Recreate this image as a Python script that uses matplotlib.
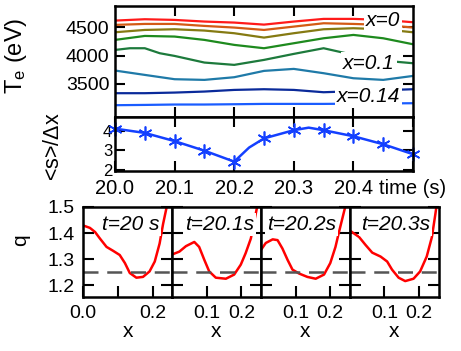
import numpy as np
import matplotlib
matplotlib.use('Agg')
import matplotlib.pyplot as plt

plt.rcParams['font.family'] = ['Liberation Sans', 'DejaVu Sans']
plt.rcParams['mathtext.fontset'] = 'custom'
plt.rcParams['mathtext.rm'] = 'Liberation Sans'
plt.rcParams['mathtext.it'] = 'Liberation Sans:italic'

# ---- top panel: Te(t) at several radii ----
t_te = [20.0, 20.05, 20.1, 20.15, 20.2, 20.25, 20.3, 20.35, 20.4, 20.45, 20.5]
te_red = [4617, 4641, 4629, 4600, 4582, 4546, 4600, 4647, 4647, 4629, 4588]
te_orange = [4541, 4558, 4558, 4523, 4494, 4452, 4511, 4570, 4558, 4541, 4494]
te_olive = [4411, 4452, 4464, 4441, 4394, 4317, 4394, 4464, 4482, 4464, 4411]
te_green = [4276, 4346, 4335, 4276, 4188, 4129, 4217, 4305, 4364, 4305, 4199]
t_dgreen = [20.0, 20.025, 20.05, 20.075, 20.1, 20.15, 20.2, 20.25, 20.3, 20.35, 20.38, 20.44, 20.5]
te_dgreen = [4099, 4129, 4129, 4041, 3993, 3876, 3835, 3923, 4029, 4129, 4058, 3920, 3864]
te_teal = [3735, 3658, 3582, 3570, 3617, 3729, 3764, 3688, 3599, 3570, 3640]
t_inner = [20.0, 20.05, 20.1, 20.15, 20.2, 20.25, 20.3, 20.35, 20.5]
te_navy = [3335, 3335, 3346, 3364, 3393, 3405, 3393, 3352, 3405]
te_blue = [3123, 3128, 3135, 3135, 3140, 3146, 3146, 3146, 3158]

# ---- middle panel: <s>/dx ----
t_s = [20.0, 20.05, 20.1, 20.15, 20.2, 20.25, 20.3, 20.35, 20.4, 20.45, 20.5]
s_dx = [4.12, 3.90, 3.48, 2.99, 2.43, 3.62, 4.04, 4.04, 3.73, 3.32, 2.81]
t_sline = [20.0, 20.05, 20.1, 20.15, 20.2, 20.225, 20.25, 20.3, 20.325, 20.35, 20.4, 20.45, 20.5]
s_line = [4.12, 3.90, 3.48, 2.99, 2.43, 3.15, 3.62, 4.04, 4.17, 4.04, 3.73, 3.32, 2.81]

# ---- bottom panels: q profiles ----
q_x1 = [0.0, 0.019, 0.034, 0.048, 0.067, 0.086, 0.105, 0.12, 0.134, 0.153, 0.172, 0.191, 0.206, 0.22, 0.23, 0.241, 0.25]
q_y1 = [1.429, 1.42, 1.404, 1.379, 1.347, 1.332, 1.316, 1.285, 1.247, 1.229, 1.232, 1.253, 1.291, 1.36, 1.435, 1.504, 1.56]
q_x2 = [0.0, 0.021, 0.04, 0.064, 0.078, 0.093, 0.107, 0.126, 0.155, 0.179, 0.198, 0.212, 0.227, 0.245]
q_y2 = [1.318, 1.329, 1.35, 1.366, 1.347, 1.297, 1.253, 1.229, 1.225, 1.241, 1.279, 1.323, 1.379, 1.5]
q_x3 = [0.0, 0.014, 0.034, 0.048, 0.062, 0.077, 0.091, 0.11, 0.134, 0.158, 0.182, 0.2, 0.215, 0.224, 0.243]
q_y3 = [1.335, 1.362, 1.376, 1.373, 1.341, 1.297, 1.26, 1.245, 1.232, 1.225, 1.241, 1.285, 1.347, 1.398, 1.5]
q_x4 = [0.0, 0.027, 0.046, 0.065, 0.089, 0.108, 0.122, 0.141, 0.16, 0.184, 0.203, 0.222, 0.237, 0.247, 0.252]
q_y4 = [1.41, 1.385, 1.354, 1.325, 1.31, 1.291, 1.26, 1.229, 1.216, 1.225, 1.253, 1.31, 1.385, 1.473, 1.52]
q_times = ['t=20 s', 't=20.1s', 't=20.2s', 't=20.3s']
q_ref = 1.25

W, H = 461, 351
fig = plt.figure(figsize=(W / 100, H / 100), dpi=100)

def frac(x0, y0, x1, y1):
    return [x0 / W, 1 - y1 / H, (x1 - x0) / W, (y1 - y0) / H]

lw_sp = 1.8
def style(ax):
    for s in ax.spines.values():
        s.set_linewidth(lw_sp)

# top panel
ax1 = fig.add_axes(frac(115, 5.7, 413, 116.7))
style(ax1)
ax1.plot(t_te, te_red, color='#ff1a1a', lw=1.6)
ax1.plot(t_te, te_orange, color='#d35a14', lw=1.6)
ax1.plot(t_te, te_olive, color='#857a12', lw=1.6)
ax1.plot(t_te, te_green, color='#1e8a1e', lw=1.6)
ax1.plot(t_dgreen, te_dgreen, color='#1d7a3c', lw=1.6)
ax1.plot(t_te, te_teal, color='#1f7aa8', lw=1.6)
ax1.plot(t_inner, te_navy, color='#0a2a9a', lw=1.6)
ax1.plot(t_inner, te_blue, color='#1a5cff', lw=1.6)
ax1.set_xlim(20.0, 20.5)
ax1.set_ylim(2920, 4880)
ax1.set_xticks([20.1, 20.2, 20.3, 20.4])
ax1.set_yticks([3500, 4000, 4500])
ax1.tick_params(direction='in', length=7, width=1.5, top=True, right=True,
                labelbottom=False, labelsize=14, pad=4)
ax1.set_ylabel(r'T$_\mathrm{e}$ (eV)', fontsize=17)
ax1.yaxis.set_label_coords(-0.29, 0.55)
box = dict(facecolor='white', edgecolor='none', pad=1.5)
ax1.text(20.45, 4611, 'x=0', style='italic', fontsize=15, ha='center', va='center', bbox=box)
ax1.text(20.426, 3861, 'x=0.1', style='italic', fontsize=15, ha='center', va='center', bbox=box)
ax1.text(20.425, 3279, 'x=0.14', style='italic', fontsize=15, ha='center', va='center', bbox=box)

# middle panel
ax2 = fig.add_axes(frac(115, 117.3, 413, 171))
style(ax2)
ax2.plot(t_sline, s_line, color='#1440ff', lw=1.8)
ax2.plot(t_s, s_dx, ls='none', marker=(6, 2, 0), ms=10, mew=1.2, color='#1440ff', clip_on=False)
ax2.set_xlim(20.0, 20.5)
ax2.set_ylim(1.95, 4.7)
ax2.set_xticks([20.0, 20.1, 20.2, 20.3, 20.4, 20.5])
ax2.set_xticklabels(['20.0', '20.1', '20.2', '20.3', '20.4', 'time (s)'])
ax2.set_yticks([2, 3, 4])
ax2.tick_params(direction='in', length=7, width=1.5, top=True, right=True)
ax2.tick_params(axis='x', labelsize=14.5, pad=6)
ax2.tick_params(axis='y', labelsize=12, pad=2)
last = ax2.get_xticklabels()[-1]
last.set_x(20.512)
ax2.set_ylabel(r'<s>/$\Delta$x', fontsize=15.5)
ax2.yaxis.set_label_coords(-0.17, 0.45)

# bottom panels
qx = [q_x1, q_x2, q_x3, q_x4]
qy = [q_y1, q_y2, q_y3, q_y4]
tx = [0.53, 0.53, 0.455, 0.516]
pw = 88.8
for i in range(4):
    x0 = 83.3 + i * pw
    ax = fig.add_axes(frac(x0, 207, x0 + pw, 297))
    style(ax)
    ax.plot(qx[i], qy[i], color='#ff0000', lw=1.8)
    ax.axhline(q_ref, color='#555555', lw=1.8, dashes=(6, 3.5))
    ax.set_xlim(0, 0.256)
    ax.set_ylim(1.155, 1.5)
    ax.set_yticks([1.2, 1.3, 1.4, 1.5])
    if i == 0:
        ax.set_xticks([0.0, 0.1, 0.2])
        ax.set_xticklabels(['0.0', '', '0.2'])
        ax.set_ylabel('q', fontsize=15)
        ax.yaxis.set_label_coords(-0.6, 0.63)
    else:
        ax.set_xticks([0.1, 0.2])
        ax.set_xticklabels(['0.1', '0.2'])
        ax.set_yticklabels([])
    ax.tick_params(direction='in', length=8, width=1.5, right=True, labelsize=14, pad=6)
    ax.set_xlabel('x', fontsize=15, labelpad=0)
    ax.text(tx[i], 0.81, q_times[i], transform=ax.transAxes, style='italic', fontsize=15,
            ha='center', va='center', bbox=box)

fig.savefig('out.png', dpi=100)
